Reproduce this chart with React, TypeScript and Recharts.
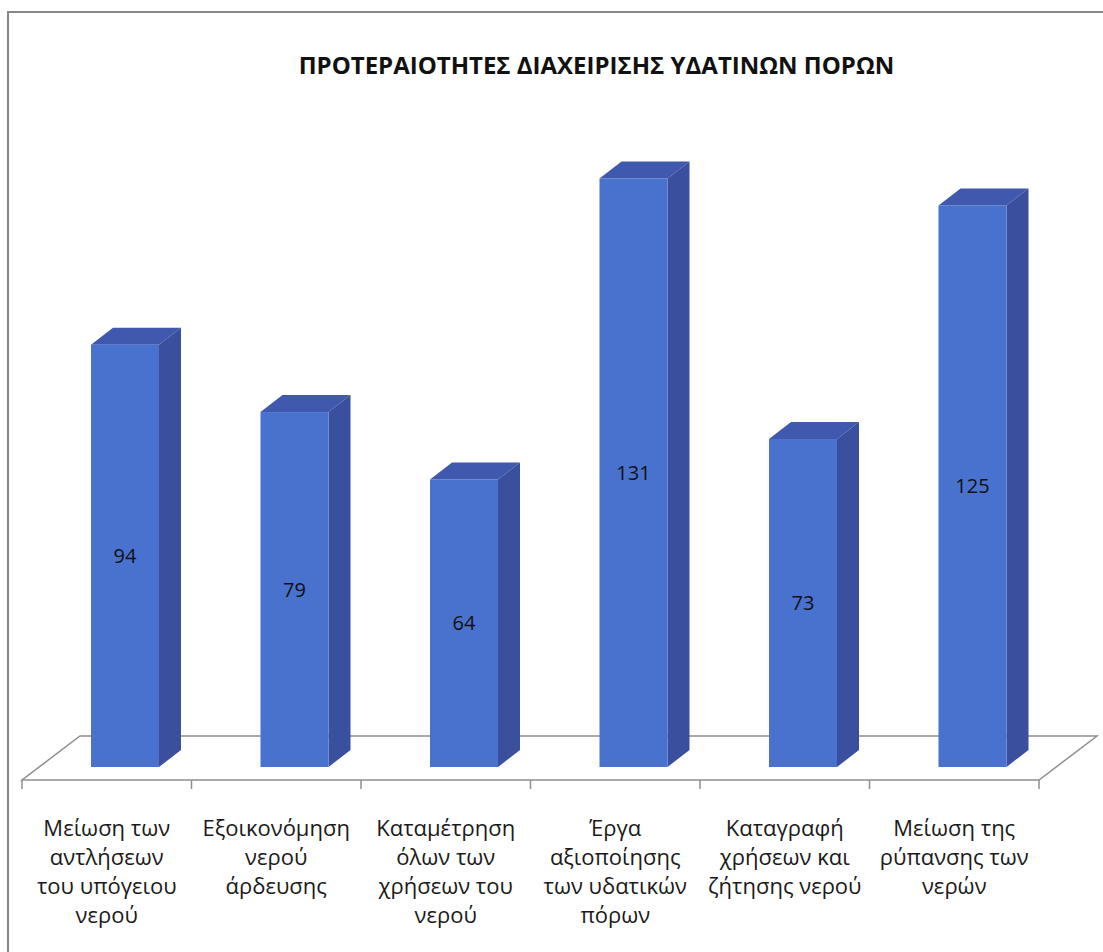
import { BarChart, Bar, XAxis, YAxis, LabelList } from "recharts";

// categories (line breaks as in the original axis labels)
const categories = [
  "Μείωση των\nαντλήσεων\nτου υπόγειου\nνερού",
  "Εξοικονόμηση\nνερού\nάρδευσης",
  "Καταμέτρηση\nόλων των\nχρήσεων του\nνερού",
  "Έργα\nαξιοποίησης\nτων υδατικών\nπόρων",
  "Καταγραφή\nχρήσεων και\nζήτησης νερού",
  "Μείωση της\nρύπανσης των\nνερών",
];
const values = [94, 79, 64, 131, 73, 125];
const yDomain = [0, 140];

const title = "ΠΡΟΤΕΡΑΙΟΤΗΤΕΣ ΔΙΑΧΕΙΡΙΣΗΣ ΥΔΑΤΙΝΩΝ ΠΟΡΩΝ";

const data = categories.map((name, i) => ({ name, value: values[i] }));

const W = 1103;
const H = 952;
const MARGIN = { top: 138, right: 64, left: 22, bottom: 0 };
const AXIS_H = 185;
const PLOT_LEFT = MARGIN.left;
const PLOT_RIGHT = W - MARGIN.right;
const BASE_Y = H - MARGIN.bottom - AXIS_H;

// fake 3d depth
const DX = 22;
const DY = 17;
const SHIFT = 18;
const FRONT = "#4972cf";
const SIDE = "#3a4f9e";
const TOP = "#4058ad";
const FLOOR_STROKE = "#8f8f8f";
const FONT = "'Open Sans', 'Noto Sans', sans-serif";

function Bar3D(props: any) {
  const { x, y, width, height } = props;
  const fx = x + SHIFT;
  const r = fx + width;
  const b = y + height;
  return (
    <g>
      <polygon points={`${fx},${y} ${fx + DX},${y - DY} ${r + DX},${y - DY} ${r},${y}`} fill={TOP} />
      <polygon points={`${r},${y} ${r + DX},${y - DY} ${r + DX},${b - DY} ${r},${b}`} fill={SIDE} />
      <rect x={fx} y={y} width={width} height={height} fill={FRONT} />
    </g>
  );
}

function Floor() {
  const front = BASE_Y + 13;
  const back = BASE_Y - 31;
  const depth = 58;
  const band = (PLOT_RIGHT - PLOT_LEFT) / categories.length;
  const edges = Array.from({ length: categories.length + 1 }, (_, i) => PLOT_LEFT + i * band);
  return (
    <g>
      <polygon
        points={`${PLOT_LEFT},${front} ${PLOT_RIGHT},${front} ${PLOT_RIGHT + depth},${back} ${PLOT_LEFT + depth},${back}`}
        fill="#ffffff"
        stroke={FLOOR_STROKE}
        strokeWidth={1.5}
      />
      {edges.map((ex) => (
        <line key={ex} x1={ex} x2={ex} y1={front} y2={front + 9} stroke={FLOOR_STROKE} strokeWidth={1.5} />
      ))}
    </g>
  );
}

function CategoryTick(props: any) {
  const { x, payload } = props;
  const lines = String(payload.value).split("\n");
  return (
    <text x={x} textAnchor="middle" fontSize={22} fill="#1a1a1a" fontFamily={FONT}>
      {lines.map((l, i) => (
        <tspan key={i} x={x} y={BASE_Y + 69 + i * 29}>
          {l}
        </tspan>
      ))}
    </text>
  );
}

export default function App() {
  return (
    <div style={{ position: "absolute", left: 0, top: 0, width: W, height: H, background: "#fff", fontFamily: FONT }}>
      <div
        style={{
          position: "absolute",
          left: 7,
          top: 11,
          right: 0,
          bottom: 0,
          borderTop: "2px solid #888",
          borderLeft: "2px solid #888",
        }}
      />
      <div
        style={{
          position: "absolute",
          left: 0,
          width: W,
          top: 48,
          textAlign: "center",
          fontWeight: 700,
          fontSize: 24,
          color: "#111",
          paddingLeft: 90,
          boxSizing: "border-box",
        }}
      >
        {title}
      </div>
      <div style={{ position: "absolute", left: 0, top: 0 }}>
        <BarChart width={W} height={H} data={data} margin={MARGIN}>
          <Floor />
          <XAxis
            dataKey="name"
            height={AXIS_H}
            axisLine={false}
            tickLine={false}
            interval={0}
            tick={<CategoryTick />}
          />
          <YAxis hide domain={yDomain} />
          <Bar dataKey="value" barSize={68} shape={<Bar3D />} isAnimationActive={false}>
            <LabelList dataKey="value" position="center" dx={SHIFT} fill="#111" fontSize={20} fontFamily={FONT} />
          </Bar>
        </BarChart>
      </div>
    </div>
  );
}
